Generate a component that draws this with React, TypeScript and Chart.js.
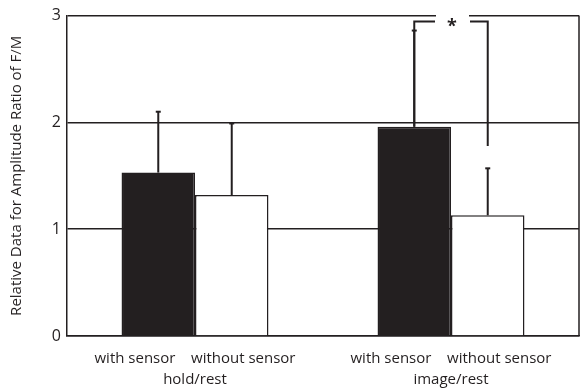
import React, { useEffect, useRef } from "react";
import { Chart, registerables } from "chart.js";

Chart.register(...registerables);

const groups: string[][] = [
  ["with sensor    without sensor", "hold/rest"],
  ["with sensor    without sensor", "image/rest"],
];
const withSensor = [1.53, 1.96];
const withoutSensor = [1.32, 1.13];
const withSensorErr = [2.1, 2.86];
const withoutSensorErr = [1.99, 1.57];
const yTicks = [0, 1, 2, 3];
const yTitle = "Relative Data for Amplitude Ratio of F/M";
const bracketTop = 2.945;
const bracketRightEnd = 1.78;
const sigLabel = "*";

const INK = "#231f20";
const FONT = "'Open Sans', sans-serif";

const overlay = {
  id: "overlay",
  afterDatasetsDraw(chart: any) {
    const ctx = chart.ctx;
    const y = chart.scales.y;
    const area = chart.chartArea;
    ctx.save();
    ctx.strokeStyle = INK;
    ctx.lineCap = "butt";
    // right border
    ctx.lineWidth = 1.5;
    ctx.beginPath();
    ctx.moveTo(area.right, area.top);
    ctx.lineTo(area.right, area.bottom);
    ctx.stroke();
    // error bars
    const errs = [withSensorErr, withoutSensorErr];
    const vals = [withSensor, withoutSensor];
    ctx.lineWidth = 2;
    for (let d = 0; d < 2; d++) {
      const meta = chart.getDatasetMeta(d);
      meta.data.forEach((bar: any, i: number) => {
        const x = bar.x;
        const y0 = y.getPixelForValue(vals[d][i]);
        const y1 = y.getPixelForValue(errs[d][i]);
        ctx.beginPath();
        ctx.moveTo(x, y0);
        ctx.lineTo(x, y1);
        ctx.stroke();
        ctx.beginPath();
        ctx.moveTo(x - 2.5, y1);
        ctx.lineTo(x + 2.5, y1);
        ctx.stroke();
      });
    }
    // significance bracket for image/rest
    const xl = chart.getDatasetMeta(0).data[1].x;
    const xr = chart.getDatasetMeta(1).data[1].x;
    const xc = (xl + xr) / 2 + 1;
    const yt = y.getPixelForValue(bracketTop);
    const yTop3 = y.getPixelForValue(3);
    // erase gridline gap around star
    ctx.fillStyle = "#ffffff";
    ctx.fillRect(xc - 16, yTop3 - 2, 33, 4);
    ctx.lineWidth = 2;
    ctx.beginPath();
    ctx.moveTo(xl, y.getPixelForValue(withSensor[1]));
    ctx.lineTo(xl, yt);
    ctx.lineTo(xc - 17, yt);
    ctx.moveTo(xc + 18, yt);
    ctx.lineTo(xr, yt);
    ctx.lineTo(xr, y.getPixelForValue(bracketRightEnd));
    ctx.stroke();
    ctx.fillStyle = INK;
    ctx.font = `bold 18px ${FONT}`;
    ctx.textAlign = "center";
    ctx.textBaseline = "middle";
    ctx.fillText(sigLabel, xc, yt + 5);
    ctx.restore();
  },
};

export default function App() {
  const ref = useRef<HTMLCanvasElement>(null);
  useEffect(() => {
    if (!ref.current) return;
    const chart = new Chart(ref.current, {
      type: "bar",
      data: {
        labels: groups,
        datasets: [
          {
            label: "with sensor",
            data: withSensor,
            backgroundColor: INK,
            borderColor: INK,
            borderWidth: 1.5,
            categoryPercentage: 0.574,
            barPercentage: 1,
          },
          {
            label: "without sensor",
            data: withoutSensor,
            backgroundColor: "#ffffff",
            borderColor: INK,
            borderWidth: 1.5,
            categoryPercentage: 0.574,
            barPercentage: 1,
          },
        ],
      },
      options: {
        animation: false,
        responsive: true,
        maintainAspectRatio: false,
        layout: { padding: { top: 14, right: 2, left: 0, bottom: 0 } },
        plugins: {
          legend: { display: false },
          tooltip: { enabled: false },
        },
        scales: {
          x: {
            grid: { display: false },
            border: { display: true, color: INK, width: 1.5 },
            ticks: {
              color: INK,
              font: { family: FONT, size: 15, lineHeight: 1.35 },
              padding: 5,
              maxRotation: 0,
              autoSkip: false,
            },
            afterFit(scale: any) {
              scale.height = 52;
            },
          },
          y: {
            min: 0,
            max: 3,
            afterBuildTicks(scale: any) {
              scale.ticks = yTicks.map((v) => ({ value: v }));
            },
            grid: { color: INK, lineWidth: 1.5, drawTicks: false },
            border: { display: true, color: INK, width: 1.5 },
            ticks: {
              color: INK,
              font: { family: FONT, size: 16 },
              padding: 6,
            },
            title: {
              display: true,
              text: yTitle,
              color: INK,
              font: { family: FONT, size: 15 },
              padding: { top: 8, bottom: 0 },
            },
            afterFit(scale: any) {
              scale.width = 67;
            },
          },
        },
      },
      plugins: [overlay],
    });
    return () => chart.destroy();
  }, []);
  return (
    <div style={{ position: "fixed", left: 0, top: 0, width: 581, height: 388, background: "#fff" }}>
      <canvas ref={ref} />
    </div>
  );
}
